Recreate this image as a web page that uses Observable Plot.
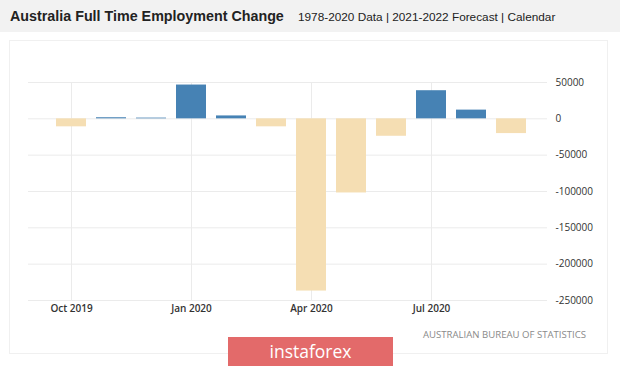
<!DOCTYPE html>
<html><head><meta charset="utf-8">
<script src="https://cdn.jsdelivr.net/npm/d3@7"></script>
<script src="https://cdn.jsdelivr.net/npm/@observablehq/plot@0.6"></script>
<style>
body{margin:0;background:#fff;width:620px;height:366px;overflow:hidden;position:relative;font-family:"Liberation Sans",Arial,sans-serif}
#head{position:absolute;left:0;top:0;width:620px;height:32px;background:#f2f2f2}
#title{position:absolute;left:10px;top:8px;font-size:14.3px;font-weight:bold;color:#222;white-space:nowrap}
#sub{position:absolute;left:298px;top:10px;font-size:11.8px;color:#222;white-space:nowrap}
#frame{position:absolute;left:9px;top:40px;width:597px;height:312px;border:1px solid #f0f0f0}
#chart{position:absolute;left:0;top:40px}
#source{position:absolute;left:423px;top:328px;font-family:"Open Sans",sans-serif;font-size:9.6px;color:#8a8a8a;white-space:nowrap}
#logo{position:absolute;left:228px;top:337px;width:165px;height:29px;background:#e36a6a;color:#fff;font-family:"Open Sans",sans-serif;font-size:17.5px;text-align:center;line-height:28px}
</style>
</head><body>
<div id="head"><div id="title">Australia Full Time Employment Change</div><div id="sub">1978-2020 Data | 2021-2022 Forecast | Calendar</div></div>
<div id="frame"></div>
<div id="chart"></div>
<div id="source">AUSTRALIAN BUREAU OF STATISTICS</div>
<div id="logo">instaforex</div>
<script>
const months = ["Oct 2019","Nov 2019","Dec 2019","Jan 2020","Feb 2020","Mar 2020","Apr 2020","May 2020","Jun 2020","Jul 2020","Aug 2020","Sep 2020"];
const values = [-11000, 1500, 1000, 46500, 4000, -11000, -237000, -102000, -24000, 38700, 12000, -20300];
const xTickLabels = ["Oct 2019","Jan 2020","Apr 2020","Jul 2020"];
const yTicks = [50000, 0, -50000, -100000, -150000, -200000, -250000];

const data = months.map((m, i) => ({month: m, value: values[i], sign: values[i] >= 0 ? "pos" : "neg"}));

const chart = Plot.plot({
  width: 620,
  height: 286,
  marginTop: 42,
  marginBottom: 26,
  marginLeft: 28,
  marginRight: 73,
  style: {fontFamily: "'Open Sans', sans-serif", fontSize: "10px", color: "#333", background: "transparent"},
  x: {type: "band", domain: months, paddingInner: 0.24, paddingOuter: 0, insetLeft: 24, insetRight: 16},
  y: {domain: [-250000, 50000]},
  color: {domain: ["pos", "neg"], range: ["#4682b4", "#f5deb3"]},
  marks: [
    Plot.gridY({ticks: yTicks, stroke: "#ebebeb", strokeOpacity: 1}),
    Plot.gridX({ticks: xTickLabels, stroke: "#ebebeb", strokeOpacity: 1}),
    Plot.barY(data, {x: "month", y: "value", fill: "sign"}),
    Plot.axisY({anchor: "right", ticks: yTicks, tickSize: 0, tickPadding: 8, tickFormat: d => String(d), label: null}),
    Plot.axisX({ticks: xTickLabels, tickSize: 0, tickPadding: 4, fontWeight: 600, label: null})
  ]
});
document.getElementById("chart").appendChild(chart);
</script>
</body></html>
